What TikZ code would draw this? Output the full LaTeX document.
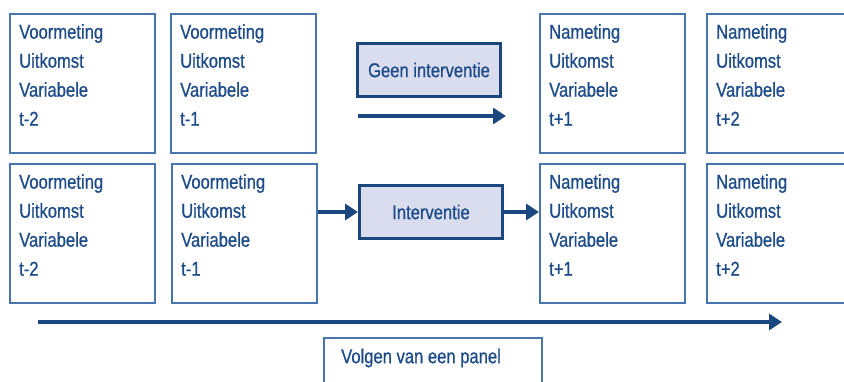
\documentclass[tikz,border=0pt]{standalone}
\usepackage{fontspec}
\setmainfont[FakeStretch=0.83,FakeBold=0.8]{Liberation Sans}
\usetikzlibrary{arrows.meta,positioning}
\definecolor{boxline}{HTML}{4676AD}
\definecolor{txtblue}{HTML}{1E4C8A}
\definecolor{arrblue}{HTML}{1A487E}
\definecolor{ivfill}{HTML}{D9DDEE}
\begin{document}
\begin{tikzpicture}[x=1pt,y=-1pt,
  panel/.style={draw=boxline,line width=2.1pt,minimum width=145pt,minimum height=139pt,inner sep=0pt,anchor=north west},
  ptext/.style={text=txtblue,font=\fontsize{20}{29}\selectfont,align=left,inner sep=0pt,anchor=north west},
  ivbox/.style={draw=arrblue,fill=ivfill,line width=3pt,minimum width=143pt,minimum height=53pt,inner sep=0pt,anchor=north west,text=txtblue,font=\fontsize{20}{22}\selectfont},
  arr/.style={draw=arrblue,line width=3.4pt,-{Triangle[length=13pt,width=16pt]}}]
\useasboundingbox (0,0) rectangle (844,382);
\begin{scope}
\clip (0,0) rectangle (844,382);
% row 1
\node[panel] (a1) at (9,13) {};
\node[panel] (a2) at (170,13) {};
\node[panel] (a3) at (539,13) {};
\node[panel] (a4) at (706,13) {};
% row 2
\node[panel] (b1) at (9,163) {};
\node[panel] (b2) at (171,163) {};
\node[panel] (b3) at (539,163) {};
\node[panel] (b4) at (706,163) {};
% texts
\node[ptext] (ta1) at ([xshift=10pt,yshift=-11pt]a1.north west) {Voormeting\\Uitkomst\\Variabele\\t-2};
\node[ptext] (ta2) at ([xshift=10pt,yshift=-11pt]a2.north west) {Voormeting\\Uitkomst\\Variabele\\t-1};
\node[ptext] (ta3) at ([xshift=10pt,yshift=-11pt]a3.north west) {Nameting\\Uitkomst\\Variabele\\t+1};
\node[ptext] (ta4) at ([xshift=10pt,yshift=-11pt]a4.north west) {Nameting\\Uitkomst\\Variabele\\t+2};
\node[ptext] (tb1) at ([xshift=10pt,yshift=-11pt]b1.north west) {Voormeting\\Uitkomst\\Variabele\\t-2};
\node[ptext] (tb2) at ([xshift=10pt,yshift=-11pt]b2.north west) {Voormeting\\Uitkomst\\Variabele\\t-1};
\node[ptext] (tb3) at ([xshift=10pt,yshift=-11pt]b3.north west) {Nameting\\Uitkomst\\Variabele\\t+1};
\node[ptext] (tb4) at ([xshift=10pt,yshift=-11pt]b4.north west) {Nameting\\Uitkomst\\Variabele\\t+2};
% intervention boxes
\node[ivbox] (gi) at (356,42) {Geen interventie};
\node[ivbox] (iv) at (358,184) {Interventie};
% top free arrow
\coordinate (ga0) at (358,116);
\coordinate (ga1) at (506,116);
\draw[arr] (ga0) -- (ga1);
% intervention arrows
\draw[arr] (b2.east |- iv.west) -- (iv.west);
\draw[arr] (iv.east) -- (b3.west |- iv.east);
% bottom timeline
\coordinate (t0) at (38,322);
\coordinate (t1) at (782,322);
\draw[arr] (t0) -- (t1);
\node[draw=boxline,line width=2.1pt,minimum width=218pt,minimum height=60pt,inner sep=0pt,anchor=north west] (vp) at (323,337) {};
\node[text=txtblue,font=\fontsize{20}{22}\selectfont,inner sep=0pt,anchor=west] (vpt) at (341,358) {Volgen van een panel};
\end{scope}
\end{tikzpicture}
\end{document}
